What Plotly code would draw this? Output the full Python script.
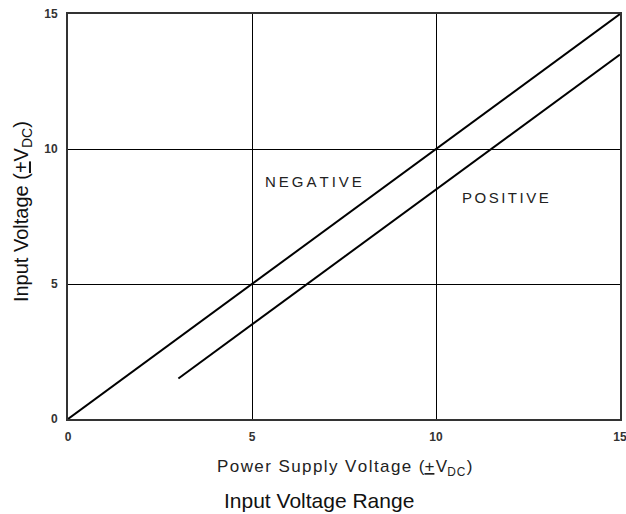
import plotly.graph_objects as go

neg_x = [0, 15]
neg_y = [0, 15]
pos_x = [3, 15]
pos_y = [1.5, 13.5]
tick_vals = [0, 5, 10, 15]
tick_text = ["0", "5", "10", "15"]

FONT = "Liberation Sans, Arial"


def spaced(s, sep="\u200a"):
    return sep.join(list(s))


fig = go.Figure()
fig.add_trace(go.Scatter(x=neg_x, y=neg_y, mode="lines", line=dict(color="black", width=2), showlegend=False))
fig.add_trace(go.Scatter(x=pos_x, y=pos_y, mode="lines", line=dict(color="black", width=2), showlegend=False))

axis_common = dict(
    range=[0, 15], tickvals=tick_vals, ticktext=tick_text,
    showgrid=True, gridcolor="black", gridwidth=1,
    showline=True, linecolor="#333", linewidth=2, mirror=True,
    zeroline=False, ticks="", automargin=False, ticklabeloverflow="allow",
    tickfont=dict(family=FONT, size=12, color="#333", weight="bold"),
)
fig.update_xaxes(**axis_common, ticklabelstandoff=6)
fig.update_yaxes(**axis_common, ticklabelstandoff=6)

fig.add_annotation(text=spaced("NEGATIVE", "\u2009"), x=6.68, y=8.78, showarrow=False,
                   font=dict(family=FONT, size=15, color="#222"))
fig.add_annotation(text=spaced("POSITIVE", "\u200a\u200a"), x=11.9, y=8.19, showarrow=False,
                   font=dict(family=FONT, size=15, color="#222"))
fig.add_annotation(text=spaced("Power Supply Voltage (") + "<u>+</u>\u200aV<sub>D\u200aC</sub>\u200a)",
                   x=0.5, y=-0.121, xref="paper", yref="paper",
                   showarrow=False, yanchor="middle",
                   font=dict(family=FONT, size=17, color="#222"))
fig.add_annotation(text="Input Voltage (<u>+</u>V<sub>DC</sub>)", x=-0.0833, y=0.511, xref="paper", yref="paper",
                   showarrow=False, textangle=-90, xanchor="center", yanchor="middle",
                   font=dict(family=FONT, size=20, color="#111"))
fig.add_annotation(text="Input Voltage Range", x=0.4547, y=-0.2, xref="paper", yref="paper",
                   showarrow=False, yanchor="middle",
                   font=dict(family=FONT, size=21, color="#111"))

fig.update_layout(
    width=626, height=514,
    margin=dict(l=68, r=6, t=14, b=95),
    plot_bgcolor="white", paper_bgcolor="white",
)
fig.write_html("out.html", config={"displayModeBar": False},
               post_script="document.body.style.margin='0';document.body.style.overflow='hidden';")
